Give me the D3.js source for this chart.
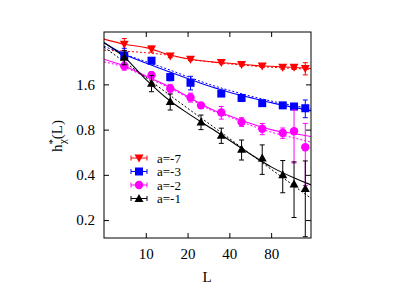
<!DOCTYPE html>
<html>
<head>
<meta charset="utf-8">
<script src="https://cdn.jsdelivr.net/npm/d3@7.9.0/dist/d3.min.js"></script>
<style>
  body { margin: 0; background: #fff; }
  svg { display: block; font-family: "Liberation Serif", "Times New Roman", serif; }
</style>
</head>
<body>
<svg width="415" height="291"></svg>
<script>
// Data
const seriesNames = ['a=-7', 'a=-3', 'a=-2', 'a=-1'];
const seriesColors = ['#ff0000', '#0000ff', '#ff00ff', '#000000'];
const seriesSymbols = ['triDown', 'square', 'circle', 'triUp'];

const lRed = [7, 11, 15, 21, 35, 49, 69, 97, 117, 141];
const hRed = [2.96, 2.75, 2.47, 2.35, 2.24, 2.17, 2.12, 2.08, 2.08, 2.04];
const eRed = [0.27, 0.13, 0.06, 0.05, 0.05, 0.05, 0.05, 0.06, 0.07, 0.19];

const lBlue = [7, 11, 15, 21, 35, 49, 69, 97, 117, 141];
const hBlue = [2.49, 2.30, 1.79, 1.64, 1.39, 1.30, 1.20, 1.16, 1.14, 1.11];
const eBlue = [0.29, 0.07, 0.1, 0.17, 0.04, 0.07, 0.04, 0.04, 0.05, 0.15];

const lMag = [7, 11, 15, 21, 25, 35, 49, 69, 97, 117, 141];
const hMag = [2.12, 1.84, 1.50, 1.31, 1.16, 1.04, 0.90, 0.81, 0.76, 0.78, 0.61];
const eMag = [0.13, 0.1, 0.1, 0.09, 0.05, 0.1, 0.06, 0.07, 0.06, 0.3, 0.27];

const lBlack = [7, 11, 15, 25, 35, 49, 69, 97, 117, 141];
const hBlack = [2.42, 1.63, 1.23, 0.90, 0.733, 0.592, 0.518, 0.401, 0.348, 0.325];
const eBlack = [0.26, 0.2, 0.15, 0.1, 0.085, 0.09, 0.115, 0.097, 0.14, 0.17];

// fit curves, read at these L values
const fitL = [5, 7, 10, 15, 20, 30, 40, 60, 80, 120, 155];
const fitRedSolid = [3.20, 2.96, 2.81, 2.51, 2.37, 2.26, 2.21, 2.14, 2.11, 2.07, 2.04];
const fitRedDash = [2.70, 2.66, 2.60, 2.49, 2.36, 2.25, 2.19, 2.12, 2.08, 2.04, 2.01];
const fitBlueSolid = [3.02, 2.54, 2.22, 1.93, 1.75, 1.535, 1.42, 1.29, 1.21, 1.12, 1.07];
const fitBlueDash = [2.87, 2.54, 2.27, 1.99, 1.80, 1.58, 1.46, 1.32, 1.24, 1.15, 1.10];
const fitMagSolid = [2.35, 2.12, 1.82, 1.535, 1.33, 1.09, 0.99, 0.865, 0.80, 0.75, 0.72];
const fitMagDash = [2.26, 2.08, 1.79, 1.51, 1.31, 1.07, 0.97, 0.84, 0.77, 0.70, 0.66];
const fitBlackSolid = [3.04, 2.43, 1.73, 1.24, 1.03, 0.81, 0.68, 0.532, 0.452, 0.378, 0.343];
const fitBlackDash = [2.83, 2.26, 1.78, 1.35, 1.11, 0.848, 0.699, 0.529, 0.436, 0.332, 0.279];

const xTicks = [10, 20, 40, 80];
const yTicks = [0.2, 0.4, 0.8, 1.6];

const series = [
  { L: lRed, h: hRed, e: eRed, solid: fitRedSolid, dash: fitRedDash },
  { L: lBlue, h: hBlue, e: eBlue, solid: fitBlueSolid, dash: fitBlueDash },
  { L: lMag, h: hMag, e: eMag, solid: fitMagSolid, dash: fitMagDash },
  { L: lBlack, h: hBlack, e: eBlack, solid: fitBlackSolid, dash: fitBlackDash },
];

const svg = d3.select('svg');
const pLeft = 104, pRight = 311, pTop = 32, pBottom = 238;

const x = d3.scaleLog().domain([5, 155]).range([pLeft, pRight]);
const y = d3.scaleLog().domain([0.152, 3.57]).range([pBottom, pTop]);

svg.append('clipPath').attr('id', 'clip')
  .append('rect').attr('x', pLeft).attr('y', pTop)
  .attr('width', pRight - pLeft).attr('height', pBottom - pTop);

// axes with inward ticks, mirrored on top / right
const tickLen = 5;
svg.append('g').attr('transform', `translate(0,${pBottom})`)
  .call(d3.axisBottom(x).tickValues(xTicks).tickSize(-tickLen).tickPadding(10).tickFormat(d3.format('d')))
  .call(g => g.select('.domain').remove());
svg.append('g').attr('transform', `translate(0,${pTop})`)
  .call(d3.axisTop(x).tickValues(xTicks).tickSize(-tickLen).tickFormat(''))
  .call(g => g.select('.domain').remove());
svg.append('g').attr('transform', `translate(${pLeft},0)`)
  .call(d3.axisLeft(y).tickValues(yTicks).tickSize(-tickLen).tickPadding(9).tickFormat(d3.format('.1f')))
  .call(g => g.select('.domain').remove());
svg.append('g').attr('transform', `translate(${pRight},0)`)
  .call(d3.axisRight(y).tickValues(yTicks).tickSize(-tickLen).tickFormat(''))
  .call(g => g.select('.domain').remove());

svg.selectAll('.tick text')
  .attr('font-family', '"Liberation Serif", serif')
  .attr('font-size', 15)
  .attr('fill', '#000');
svg.selectAll('.tick line').attr('stroke', '#000');

// fit curves
const plot = svg.append('g').attr('clip-path', 'url(#clip)');
const line = d3.line()
  .x((d, i) => x(fitL[i]))
  .y(d => y(d))
  .curve(d3.curveMonotoneX);

series.forEach((s, k) => {
  plot.append('path').attr('d', line(s.dash))
    .attr('fill', 'none').attr('stroke', seriesColors[k])
    .attr('stroke-width', 1).attr('stroke-dasharray', '2,2');
  plot.append('path').attr('d', line(s.solid))
    .attr('fill', 'none').attr('stroke', seriesColors[k])
    .attr('stroke-width', 1.1);
});

// markers
function marker(g, type, cx, cy, color) {
  if (type === 'square') {
    g.append('rect').attr('x', cx - 4).attr('y', cy - 4)
      .attr('width', 8).attr('height', 8).attr('fill', color);
  } else if (type === 'circle') {
    g.append('circle').attr('cx', cx).attr('cy', cy).attr('r', 4.2).attr('fill', color);
  } else {
    const s = type === 'triUp' ? 1 : -1;
    g.append('path')
      .attr('d', `M${cx},${cy - 4.5 * s}L${cx + 4.5},${cy + 3.5 * s}L${cx - 4.5},${cy + 3.5 * s}Z`)
      .attr('fill', color);
  }
}

series.forEach((s, k) => {
  const g = plot.append('g');
  const col = seriesColors[k];
  s.L.forEach((L, i) => {
    const cx = x(L);
    const y1 = y(s.h[i] + s.e[i]);
    const y2 = y(Math.max(s.h[i] - s.e[i], 0.01));
    g.append('line').attr('x1', cx).attr('x2', cx).attr('y1', y1).attr('y2', y2)
      .attr('stroke', col).attr('stroke-width', 1);
    [y1, y2].forEach(yy => g.append('line')
      .attr('x1', cx - 2.5).attr('x2', cx + 2.5).attr('y1', yy).attr('y2', yy)
      .attr('stroke', col).attr('stroke-width', 1));
    marker(g, seriesSymbols[k], cx, y(s.h[i]), col);
  });
});

// frame
svg.append('rect').attr('x', pLeft).attr('y', pTop)
  .attr('width', pRight - pLeft).attr('height', pBottom - pTop)
  .attr('fill', 'none').attr('stroke', '#000').attr('stroke-width', 1);

// legend
const legend = svg.append('g');
seriesNames.forEach((name, k) => {
  const ly = 158 + k * 13.5;
  const col = seriesColors[k];
  legend.append('line').attr('x1', 131).attr('x2', 147).attr('y1', ly).attr('y2', ly)
    .attr('stroke', col);
  [131, 147].forEach(xx => legend.append('line')
    .attr('x1', xx).attr('x2', xx).attr('y1', ly - 2.5).attr('y2', ly + 2.5).attr('stroke', col));
  marker(legend, seriesSymbols[k], 139, ly, col);
  legend.append('text').attr('x', 157).attr('y', ly + 4.5)
    .attr('font-size', 13).text(name);
});

// axis titles
svg.append('text').attr('x', 207).attr('y', 282)
  .attr('text-anchor', 'middle').attr('font-size', 15).text('L');

const yt = svg.append('text')
  .attr('transform', 'translate(62,136) rotate(-90)')
  .attr('text-anchor', 'middle').attr('font-size', 15);
yt.append('tspan').text('h');
yt.append('tspan').attr('dy', -6).attr('font-size', 11).text('*');
yt.append('tspan').attr('dx', -5).attr('dy', 10).attr('font-size', 11).text('χ');
yt.append('tspan').attr('dy', -4).text('(L)');
</script>
</body>
</html>
